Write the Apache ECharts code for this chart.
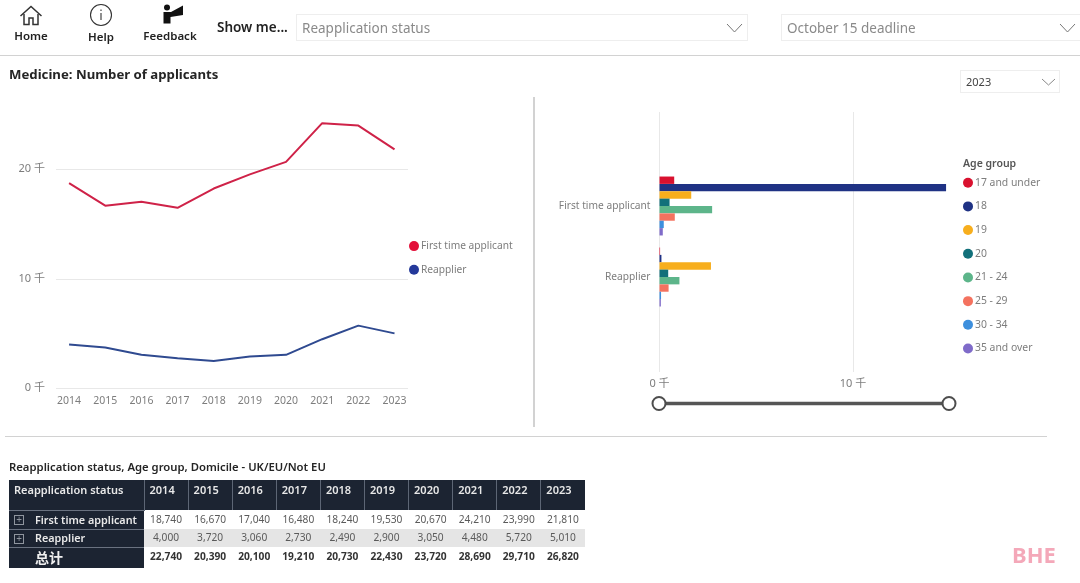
<!DOCTYPE html>
<html>
<head>
<meta charset="utf-8">
<title>Medicine: Number of applicants</title>
<script src="https://cdn.jsdelivr.net/npm/echarts@6/dist/echarts.min.js"></script>
<style>
	html, body { margin:0; padding:0; background:#fff; width:1080px; height:583px; overflow:hidden; font-family:"Noto Sans","Noto Sans CJK SC",sans-serif; }
	#main { position:absolute; left:0; top:0; width:1080px; height:583px; }
	.abs { position:absolute; white-space:nowrap; }
	.navText { font-size:11.5px; font-weight:600; color:#222; text-align:center; width:70px; }
	.selectBox { border:1px solid #eeeeee; color:#8a8a8a; box-sizing:border-box; }
	.rule { background:#d2d2d2; }
	#dataTable { position:absolute; left:9px; top:480px; border-collapse:collapse; table-layout:fixed; width:576px; font-size:10.2px; }
	#dataTable th, #dataTable td { padding:0; overflow:hidden; white-space:nowrap; }
	#dataTable th { background:#1c2432; color:#e8e8e8; font-weight:600; text-align:left; vertical-align:top; padding:2px 0 0 5px; box-sizing:border-box; border-left:1px solid #5d6675; font-size:11px; }
	#dataTable th:first-child { border-left:none; }
	#dataTable td { color:#5a5a5a; text-align:center; line-height:14px; }
	#dataTable td.val { padding-bottom:2px; box-sizing:border-box; }
	#dataTable td.rowHead { background:#1c2432; color:#e8e8e8; font-weight:600; font-size:10.8px; text-align:left; padding-left:26px; position:relative; border-top:1px solid #6a7280; box-sizing:border-box; }
	#dataTable tr.grey td.val { background:#e5e5e5; }
	#dataTable tr.total td.val { color:#333; font-weight:700; padding-bottom:4px; }
	#dataTable tr.total td.rowHead { font-size:14px; font-weight:700; color:#f0f0f0; }
	.plus { position:absolute; left:5px; top:4px; width:10px; height:10px; box-sizing:border-box; border:1px solid #8f959e; color:#8f959e; font-size:10px; line-height:7px; text-align:center; font-weight:400; }
</style>
</head>
<body>
<div id="main"></div>

<!-- 顶部导航 -->
<svg class="abs" style="left:19px;top:5px" width="24" height="21" viewBox="0 0 24 21" fill="none" stroke="#333" stroke-width="1.5">
	<path d="M1.5 11 L12 1.5 L22.5 11"/><path d="M5 9 V19.5 H10 V13 H14 V19.5 H19 V9"/>
</svg>
<div class="abs navText" style="left:-4px;top:28px">Home</div>
<svg class="abs" style="left:89px;top:3px" width="24" height="24" viewBox="0 0 24 24" fill="none" stroke="#333" stroke-width="1.1">
	<circle cx="12" cy="12" r="10.5"/><path d="M12 10 V17 M12 6.5 V8"/>
</svg>
<div class="abs navText" style="left:66px;top:29px">Help</div>
<svg class="abs" style="left:162px;top:4px" width="22" height="20" viewBox="0 0 22 20" fill="#111">
	<circle cx="5" cy="3.5" r="3"/><path d="M1.5 8 H9 L21 1.5 V11 L8.5 13 V19.5 H1.5 Z"/>
</svg>
<div class="abs navText" style="left:135px;top:28px">Feedback</div>
<div class="abs" style="left:217px;top:18px;font-size:13.5px;font-weight:600;color:#222">Show me...</div>

<div class="abs selectBox" style="left:296px;top:14px;width:452px;height:27px;font-size:13.5px;line-height:27px;padding-left:5px">Reapplication status</div>
<svg class="abs" style="left:726px;top:23px" width="17" height="10" fill="none" stroke="#777"><path d="M1 1 L8.5 9 L16 1"/></svg>
<div class="abs selectBox" style="left:781px;top:14px;width:310px;height:27px;font-size:13.5px;line-height:27px;padding-left:5px">October 15 deadline</div>
<svg class="abs" style="left:1059px;top:23px" width="17" height="10" fill="none" stroke="#777"><path d="M1 1 L8.5 9 L16 1"/></svg>
<div class="abs rule" style="left:0;top:55px;width:1080px;height:1px"></div>

<div class="abs" style="left:9px;top:65px;font-size:13.2px;font-weight:700;color:#252525">Medicine: Number of applicants</div>
<div class="abs selectBox" style="left:960px;top:70px;width:100px;height:23px;font-size:11px;line-height:22px;padding-left:5px;color:#444">2023</div>
<svg class="abs" style="left:1041px;top:78px" width="15" height="8" fill="none" stroke="#888"><path d="M1 1 L7.5 7 L14 1"/></svg>

<!-- 分隔线 -->
<div class="abs rule" style="left:533px;top:97px;width:2px;height:330px"></div>
<div class="abs rule" style="left:5px;top:436px;width:1042px;height:1px"></div>

<div class="abs" style="left:9px;top:459px;font-size:11.3px;font-weight:600;color:#252525">Reapplication status, Age group, Domicile - UK/EU/Not EU</div>
<table id="dataTable"></table>
<div class="abs" style="left:1012px;top:539px;font-size:22px;font-weight:700;color:#f4a8b9">BHE</div>

<script>
	//表格和折线图的数据
	var years = ["2014","2015","2016","2017","2018","2019","2020","2021","2022","2023"];
	var firstTime = [18740,16670,17040,16480,18240,19530,20670,24210,23990,21810];
	var reapplier = [4000,3720,3060,2730,2490,2900,3050,4480,5720,5010];
	var totals = [22740,20390,20100,19210,20730,22430,23720,28690,29710,26820];
	//条形图的数据 (2023年)
	var statusNames = ["First time applicant","Reapplier"];
	var ageGroups = ["17 and under","18","19","20","21 - 24","25 - 29","30 - 34","35 and over"];
	var firstByAge = [760,14810,1640,520,2720,790,220,170];
	var reapplierByAge = [30,100,2660,450,1030,470,80,70];
	var ageColors = ["#D9112F","#1F3284","#F7AE1D","#12707A","#5DB58A","#F4725F","#3D8FDD","#7F6BC9"];
	var lineColors = ["#CF2248","#2F4A90"];
	var dotColors = ["#E3103A","#24399A"];

	var fontName = '"Noto Sans","Noto Sans CJK SC",sans-serif';
	var greyText = "#7d7d7d";

	function fmt(v){
		return v.toLocaleString("en-US");
	}
	function qian(v){
		return (v / 1000) + " 千";
	}

	//拼表格
	function showTable(){
		var s = "<colgroup><col style='width:135px'>";
		for (var i = 0; i < years.length; i++) {
			s += "<col style='width:44.1px'>";
		}
		s += "</colgroup><tr style='height:30px'><th>Reapplication status</th>";
		for (var i = 0; i < years.length; i++) {
			s += "<th>" + years[i] + "</th>";
		}
		s += "</tr>";
		s += makeRow(statusNames[0], firstTime, "", true, 19);
		s += makeRow(statusNames[1], reapplier, "grey", true, 18);
		s += makeRow("总计", totals, "total", false, 21);
		document.getElementById("dataTable").innerHTML = s;
	}
	function makeRow(name, vals, cls, plus, h){
		var s = "<tr class='" + cls + "' style='height:" + h + "px'><td class='rowHead'>";
		if (plus) {
			s += "<span class='plus'>+</span>";
		}
		s += name + "</td>";
		for (var i = 0; i < vals.length; i++) {
			s += "<td class='val'>" + fmt(vals[i]) + "</td>";
		}
		return s + "</tr>";
	}
	showTable();

	var myChart = echarts.init(document.getElementById("main"), null, {renderer:"canvas"});

	var series = [
		{name:statusNames[0], type:"line", xAxisIndex:0, yAxisIndex:0, data:firstTime, symbol:"none", lineStyle:{width:2, color:lineColors[0]}, itemStyle:{color:dotColors[0]}},
		{name:statusNames[1], type:"line", xAxisIndex:0, yAxisIndex:0, data:reapplier, symbol:"none", lineStyle:{width:2, color:lineColors[1]}, itemStyle:{color:dotColors[1]}}
	];
	for (var i = 0; i < ageGroups.length; i++) {
		series.push({
			name:ageGroups[i],
			type:"bar",
			xAxisIndex:1,
			yAxisIndex:1,
			data:[firstByAge[i], reapplierByAge[i]],
			barGap:0,
			barCategoryGap:"17%",
			itemStyle:{color:ageColors[i]}
		});
	}

	myChart.setOption({
		animation:false,
		textStyle:{fontFamily:fontName},
		grid:[
			{left:51, top:114.5, width:361.6, height:273.75},	//折线图
			{left:659.5, top:170.5, width:290.25, height:142},	//条形图
			{left:659.5, top:112, width:290.25, height:260},	//条形图后面的网格线
			{left:56, top:114.5, width:352, height:273.75}	//折线图后面的网格线
		],
		xAxis:[
			{
				gridIndex:0, type:"category", data:years, boundaryGap:true,
				axisLine:{show:false}, axisTick:{show:false},
				axisLabel:{color:greyText, fontSize:10.5, margin:8, interval:0}
			},
			{gridIndex:1, type:"value", min:0, max:15000, show:false, splitLine:{show:false}},
			{
				gridIndex:2, type:"value", min:0, max:15000, interval:10000,
				axisLine:{show:false}, axisTick:{show:false},
				axisLabel:{color:greyText, fontSize:11, margin:6, showMaxLabel:false, formatter:qian},
				splitLine:{show:true, showMaxLine:false, lineStyle:{color:"#e8e8e8"}}
			},
			{gridIndex:3, type:"value", min:0, max:1, show:false, splitLine:{show:false}}
		],
		yAxis:[
			{gridIndex:0, type:"value", min:0, max:25000, show:false, splitLine:{show:false}},
			{
				gridIndex:1, type:"category", data:statusNames, inverse:true,
				axisLine:{show:false}, axisTick:{show:false},
				axisLabel:{color:greyText, fontSize:10.2, margin:9, padding:[6,0,0,0]}
			},
			{gridIndex:2, type:"value", min:0, max:1, show:false, splitLine:{show:false}},
			{
				gridIndex:3, type:"value", min:0, max:25000, interval:10000,
				axisLine:{show:false}, axisTick:{show:false},
				axisLabel:{color:greyText, fontSize:11, margin:11, showMaxLabel:false, padding:[6,0,0,0], formatter:qian},
				splitLine:{show:true, showMaxLine:false, lineStyle:{color:"#e8e8e8"}}
			}
		],
		title:{
			text:"Age group", left:963, top:159, padding:0,
			textStyle:{fontSize:10.5, fontWeight:600, color:"#555"}
		},
		legend:[
			{
				data:statusNames, orient:"vertical", left:409, top:241, padding:0,
				icon:"circle", itemWidth:10, itemHeight:10, itemGap:13.5,
				textStyle:{color:greyText, fontSize:10.2, padding:[0,0,0,-3]}
			},
			{
				data:ageGroups, orient:"vertical", left:963, top:177.5, padding:0,
				icon:"circle", itemWidth:10, itemHeight:10, itemGap:13.3,
				textStyle:{color:greyText, fontSize:10.4, padding:[0,0,0,-3]}
			}
		],
		//范围滑块
		graphic:[
			{type:"line", z:10, shape:{x1:659, y1:403.5, x2:949, y2:403.5}, style:{stroke:"#555", lineWidth:3.5}},
			{type:"circle", z:11, shape:{cx:659, cy:403.5, r:6.5}, style:{fill:"#fff", stroke:"#4d4d4d", lineWidth:2}},
			{type:"circle", z:11, shape:{cx:949, cy:403.5, r:6.5}, style:{fill:"#fff", stroke:"#4d4d4d", lineWidth:2}}
		],
		series:series
	});
</script>
</body>
</html>
